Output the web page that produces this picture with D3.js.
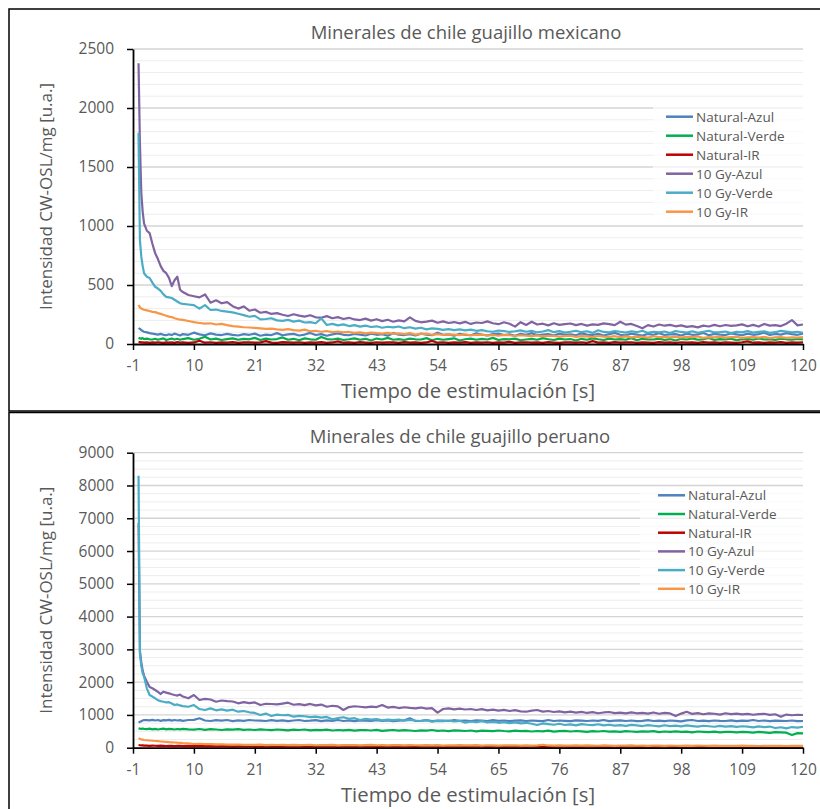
<!DOCTYPE html>
<html>
<head>
<meta charset="utf-8">
<script src="https://cdn.jsdelivr.net/npm/d3@7/dist/d3.min.js"></script>
<style>
  body { margin: 0; background: #fff; }
  svg text { font-family: "Open Sans", sans-serif; fill: #595959; }
</style>
</head>
<body>
<svg id="chart" width="820" height="809"></svg>
<script>
var names = ["Natural-Azul", "Natural-Verde", "Natural-IR", "10 Gy-Azul", "10 Gy-Verde", "10 Gy-IR"];
var colors = ["#4F81BD", "#00B050", "#C00000", "#8064A2", "#4BACC6", "#F79646"];

// sampling times: dense at the start, then 1 s steps
var tStart = [0, 0.25, 0.5, 0.75, 1, 1.5, 2, 2.5, 3, 3.5, 4, 4.5, 5, 5.5, 6, 6.5, 7, 7.5];
var times = tStart.concat(d3.range(8, 121));

var xTicks = [-1, 10, 21, 32, 43, 54, 65, 76, 87, 98, 109, 120];
var yTicksMex = [0, 500, 1000, 1500, 2000, 2500];
var yTicksPer = [0, 1000, 2000, 3000, 4000, 5000, 6000, 7000, 8000, 9000];

// ---- Minerales de chile guajillo mexicano ----
var mexNatAzul = [135, 128, 118, 110, 104, 98, 92, 88, 84, 80, 86, 78, 74, 82, 76, 88, 80, 72,
  84, 78, 96, 82, 74, 90, 80, 76, 86, 78,
  72, 84, 78, 88, 70, 80, 76, 92, 74, 82,
  86, 72, 80, 94, 76, 84, 70, 82, 90, 78,
  74, 86, 80, 72, 88, 78, 84, 70, 92, 80,
  76, 84, 72, 88, 80, 74, 96, 78, 82, 70,
  86, 78, 74, 90, 80, 72, 84, 88, 76, 82,
  70, 86, 78, 92, 74, 80, 84, 72, 88, 78,
  82, 74, 90, 80, 76, 86, 72, 84, 94, 78,
  74, 88, 80, 72, 86, 78, 92, 76, 82, 84,
  72, 88, 78, 80, 94, 74, 86, 80, 76, 90,
  82, 74, 88, 78, 84, 96, 76, 86, 80, 92,
  84, 78, 88];
var mexNatVerde = [52, 48, 44, 50, 42, 46, 40, 38, 44, 36, 42, 48, 34, 40, 46, 38, 44, 36,
  42, 50, 36, 44, 62, 38, 46, 34, 42, 48,
  36, 44, 40, 52, 34, 46, 38, 42, 56, 36,
  44, 32, 48, 40, 36, 60, 42, 38, 46, 34,
  40, 48, 36, 44, 30, 46, 38, 52, 36, 42,
  34, 46, 40, 38, 50, 32, 44, 36, 42, 48,
  30, 40, 46, 36, 44, 38, 52, 34, 42, 40,
  46, 32, 38, 44, 36, 50, 40, 34, 46, 38,
  42, 30, 44, 36, 48, 40, 34, 46, 38, 42,
  36, 50, 32, 44, 40, 38, 46, 34, 42, 30,
  44, 38, 48, 36, 40, 52, 34, 42, 38, 46,
  32, 40, 44, 36, 48, 38, 42, 34, 46, 40,
  36, 44, 38];
var mexNatIR = [18, 16, 14, 15, 12, 14, 10, 13, 11, 15, 12, 9, 14, 11, 13, 10, 16, 12,
  14, 10, 13, 28, 11, 15, 9, 14, 12, 16,
  10, 13, 15, 11, 14, 24, 12, 10, 16, 13,
  11, 15, 9, 14, 12, 16, 10, 13, 22, 11,
  14, 10, 16, 12, 9, 15, 11, 14, 13, 10,
  16, 12, 14, 9, 13, 26, 11, 15, 10, 14,
  12, 16, 10, 13, 11, 15, 9, 14, 12, 18,
  10, 13, 15, 11, 14, 10, 16, 12, 9, 14,
  13, 11, 15, 10, 24, 12, 14, 9, 16, 11,
  13, 15, 10, 14, 12, 9, 16, 11, 13, 10,
  15, 12, 14, 10, 16, 11, 13, 9, 14, 12,
  10, 15, 22, 11, 13, 9, 14, 12, 16, 10,
  13, 11, 15];
var mexGyAzul = [2380, 1700, 1280, 1120, 1020, 960, 940, 850, 770, 720, 660, 620, 600, 560, 490, 540, 570, 460,
  440, 415, 405, 395, 420, 350, 370, 345, 355, 320,
  300, 318, 282, 292, 265, 272, 255, 262, 248, 237,
  252, 240, 232, 244, 226, 223, 236, 218, 228, 212,
  222, 208, 203, 215, 198, 210, 194, 206, 189, 200,
  192, 226, 196, 184, 189, 198, 180, 192, 178, 186,
  175, 188, 170, 182, 178, 192, 176, 168, 184, 172,
  147, 185, 161, 189, 165, 172, 158, 176, 162, 168,
  174, 160, 170, 156, 166, 162, 175, 168, 160, 189,
  164, 170, 152, 133, 160, 148, 165, 155, 162, 150,
  158, 145, 152, 141, 156, 148, 162, 150, 161, 154,
  158, 166, 150, 162, 148, 170, 156, 160, 152, 172,
  203, 158, 165];
var mexGyVerde = [1790, 880, 740, 660, 600, 570, 559, 520, 485, 470, 450, 420, 400, 395, 390, 375, 360, 345,
  340, 335, 330, 300, 330, 288, 292, 280, 274, 268,
  256, 245, 231, 238, 209, 212, 218, 200, 196, 204,
  190, 198, 182, 186, 176, 217, 161, 170, 158, 166,
  152, 160, 147, 156, 144, 150, 138, 146, 141, 148,
  134, 142, 130, 138, 124, 132, 128, 120, 126, 118,
  124, 116, 122, 112, 118, 108, 104, 114, 110, 102,
  108, 116, 104, 112, 98, 106, 118, 100, 110, 96,
  104, 112, 100, 108, 94, 116, 102, 98, 110, 104,
  96, 108, 100, 112, 94, 104, 98, 106, 92, 110,
  102, 96, 108, 94, 104, 112, 98, 100, 106, 92,
  104, 98, 110, 96, 102, 108, 94, 100, 112, 106,
  98, 104, 95];
var mexGyIR = [330, 310, 300, 295, 290, 285, 280, 272, 270, 262, 255, 248, 240, 232, 228, 218, 212, 206,
  205, 195, 185, 178, 172, 176, 165, 170, 160, 152,
  148, 142, 140, 136, 133, 128, 130, 124, 120, 126,
  118, 114, 122, 108, 112, 104, 110, 100, 106, 98,
  102, 94, 98, 90, 96, 92, 88, 94, 86, 90,
  84, 92, 80, 86, 88, 78, 84, 76, 82, 80,
  76, 82, 74, 78, 80, 72, 76, 70, 78, 74,
  68, 74, 70, 66, 72, 64, 70, 68, 62, 66,
  70, 60, 66, 64, 58, 68, 62, 60, 66, 58,
  64, 56, 62, 60, 54, 66, 58, 60, 56, 62,
  54, 60, 58, 64, 52, 58, 56, 62, 54, 58,
  60, 52, 56, 58, 54, 60, 50, 56, 58, 52,
  56, 54, 58];

// ---- Minerales de chile guajillo peruano ----
var perNatAzul = [763, 790, 810, 830, 845, 840, 835, 850, 830, 845, 820, 840, 835, 850, 825, 845, 830, 840,
  820, 845, 850, 897, 830, 815, 840, 825, 845, 810,
  835, 820, 845, 830, 824, 815, 840, 820, 835, 810,
  830, 845, 815, 825, 840, 810, 835, 820, 846, 815,
  830, 810, 835, 825, 820, 840, 815, 830, 810, 825,
  835, 897, 815, 820, 840, 810, 830, 825, 815, 840,
  820, 830, 810, 835, 825, 815, 840, 820, 830, 810,
  825, 835, 815, 830, 820, 810, 845, 815, 830, 820,
  810, 835, 825, 815, 830, 820, 845, 810, 825, 835,
  815, 830, 810, 820, 840, 815, 825, 810, 830, 820,
  805, 835, 845, 815, 825, 810, 830, 820, 815, 835,
  810, 825, 820, 845, 815, 830, 810, 825, 820, 815,
  830, 810, 815];
var perNatVerde = [590, 580, 575, 585, 570, 565, 580, 560, 575, 555, 570, 580, 560, 575, 565, 555, 570, 560,
  575, 560, 550, 570, 545, 565, 555, 540, 560, 550,
  565, 545, 555, 540, 560, 548, 535, 555, 545, 530,
  550, 540, 555, 530, 545, 535, 550, 525, 540, 530,
  545, 520, 535, 540, 525, 545, 515, 530, 540, 520,
  535, 525, 510, 530, 520, 540, 515, 525, 505, 530,
  520, 510, 525, 500, 520, 515, 505, 525, 510, 500,
  520, 505, 515, 495, 510, 500, 520, 490, 505, 515,
  495, 510, 500, 485, 505, 495, 510, 490, 500, 485,
  505, 495, 480, 500, 490, 505, 475, 495, 485, 500,
  480, 490, 470, 495, 485, 475, 490, 470, 485, 480,
  465, 485, 475, 460, 480, 470, 455, 475, 465, 458,
  387, 445, 440];
var perNatIR = [82, 75, 68, 70, 62, 66, 58, 64, 60, 55, 62, 58, 52, 60, 56, 50, 58, 54,
  50, 56, 48, 54, 46, 52, 44, 50, 48, 42,
  48, 44, 50, 40, 46, 42, 48, 38, 44, 40,
  46, 38, 42, 44, 36, 42, 40, 46, 34, 40,
  42, 36, 44, 38, 40, 34, 42, 38, 36, 44,
  38, 40, 34, 42, 36, 40, 38, 32, 42, 36,
  40, 34, 38, 42, 36, 32, 40, 38, 34, 42,
  36, 38, 32, 40, 36, 34, 42, 30, 38, 36,
  34, 40, 32, 38, 36, 30, 40, 34, 38, 32,
  36, 38, 30, 40, 34, 32, 38, 36, 30, 40,
  34, 32, 38, 30, 36, 34, 40, 32, 36, 30,
  38, 34, 32, 36, 30, 38, 34, 32, 36, 30,
  34, 32, 36];
var perGyAzul = [6850, 2950, 2600, 2350, 2200, 2013, 1850, 1812, 1760, 1700, 1638, 1708, 1680, 1659, 1630, 1607, 1590, 1620,
  1560, 1507, 1607, 1455, 1490, 1470, 1403, 1440, 1420, 1410,
  1354, 1390, 1360, 1380, 1302, 1340, 1333, 1320, 1345, 1373,
  1310, 1330, 1300, 1335, 1290, 1315, 1250, 1280, 1260, 1150,
  1240, 1265, 1250, 1230, 1255, 1240, 1302, 1225, 1245, 1210,
  1235, 1215, 1200, 1225, 1190, 1210, 1068, 1180, 1200, 1170,
  1190, 1165, 1180, 1150, 1175, 1140, 1160, 1130, 1155, 1120,
  1145, 1110, 1098, 1130, 1150, 1100, 1120, 1090, 1110, 1080,
  1100, 1070, 1095, 1060, 1085, 1050, 1075, 1090, 1055, 1070,
  1045, 1080, 1050, 1065, 1040, 1075, 1035, 1060, 1045, 966,
  1040, 1098, 1030, 1055, 1020, 1045, 1035, 1010, 1050, 1025,
  1040, 1015, 1030, 1005, 1025, 1035, 1000, 1020, 946, 1010,
  990, 1005, 997];
var perGyVerde = [8300, 2880, 2500, 2270, 2166, 1812, 1607, 1560, 1507, 1450, 1420, 1403, 1380, 1390, 1350, 1302, 1320, 1290,
  1270, 1250, 1302, 1180, 1150, 1200, 1140, 1170, 1130, 1160,
  1098, 1120, 1080, 1060, 997, 1040, 966, 1010, 990, 1000,
  946, 970, 960, 935, 950, 920, 940, 866, 905, 930,
  880, 900, 845, 880, 860, 870, 835, 855, 840, 860,
  824, 850, 830, 815, 840, 793, 820, 810, 830, 800,
  820, 763, 800, 780, 810, 770, 790, 760, 780, 750,
  770, 743, 760, 730, 692, 740, 720, 700, 730, 692,
  710, 680, 720, 700, 690, 715, 680, 700, 675, 690,
  665, 695, 680, 661, 690, 670, 650, 685, 660, 675,
  650, 680, 660, 641, 670, 655, 640, 665, 645, 660,
  635, 655, 641, 620, 650, 630, 645, 600, 625, 590,
  630, 610, 640];
var perGyIR = [287, 270, 255, 245, 235, 228, 220, 212, 205, 198, 190, 183, 178, 170, 165, 158, 152, 148,
  140, 130, 113, 120, 108, 112, 100, 104, 95, 92,
  98, 88, 90, 84, 92, 80, 86, 82, 88, 78,
  84, 76, 82, 88, 74, 80, 78, 84, 72, 80,
  76, 82, 70, 78, 86, 74, 80, 72, 78, 76,
  70, 80, 74, 68, 78, 72, 76, 66, 74, 70,
  78, 68, 72, 76, 66, 74, 70, 64, 72, 68,
  74, 66, 70, 64, 72, 90, 68, 62, 70, 66,
  64, 70, 62, 68, 66, 60, 70, 64, 58, 66,
  62, 68, 60, 64, 58, 66, 62, 56, 64, 60,
  58, 64, 56, 62, 60, 54, 62, 58, 56, 60,
  54, 62, 56, 58, 52, 60, 56, 54, 58, 52,
  56, 54, 58];

var svg = d3.select("#chart");

// panel frames
svg.append("rect").attr("x", 9).attr("y", 9).attr("width", 830).attr("height", 402)
    .attr("fill", "none").attr("stroke", "#000").attr("stroke-width", 1.5);
svg.append("rect").attr("x", 9).attr("y", 412.5).attr("width", 830).attr("height", 420)
    .attr("fill", "none").attr("stroke", "#000").attr("stroke-width", 1.5);

function drawPanel(p) {
    var x = d3.scaleLinear().domain([-1, 120]).range([133, 803]);
    var y = d3.scaleLinear().domain([0, p.yTicks[p.yTicks.length - 1]]).range([p.bottom, p.top]);
    var g = svg.append("g");

    // gridlines
    g.selectAll("line.minor")
        .data(d3.range(0, y.domain()[1] + 1, p.minorStep).filter(function(v) { return v % p.yTicks[1] !== 0; }))
      .enter().append("line")
        .attr("x1", x(-1)).attr("x2", x(120))
        .attr("y1", function(d) { return y(d); }).attr("y2", function(d) { return y(d); })
        .attr("stroke", "#ededed").attr("stroke-width", 1);
    g.selectAll("line.major")
        .data(p.yTicks.slice(1))
      .enter().append("line")
        .attr("x1", x(-1)).attr("x2", x(120))
        .attr("y1", function(d) { return y(d); }).attr("y2", function(d) { return y(d); })
        .attr("stroke", "#d4d4d4").attr("stroke-width", 1.3);

    // legend backing
    g.append("rect")
        .attr("x", p.legend.box[0]).attr("y", p.legend.box[1])
        .attr("width", p.legend.box[2]).attr("height", p.legend.box[3])
        .attr("fill", "#fff").attr("opacity", 0.65);

    var line = d3.line()
        .x(function(d, i) { return x(times[i]); })
        .y(function(d) { return y(d); });

    g.selectAll("path.series")
        .data(p.series)
      .enter().append("path")
        .attr("class", "series")
        .attr("d", line)
        .attr("fill", "none")
        .attr("stroke", function(d, i) { return colors[i]; })
        .attr("stroke-width", 2.2)
        .attr("stroke-linejoin", "round");

    // axes, plain number labels (no thousands separator, hyphen minus)
    var plain = function(d) { return String(d); };
    var yAxis = d3.axisLeft(y).tickValues(p.yTicks).tickFormat(plain)
        .tickSize(6).tickSizeOuter(0).tickPadding(13);
    var xAxis = d3.axisBottom(x).tickValues(xTicks).tickFormat(plain)
        .tickSize(6).tickSizeOuter(0).tickPadding(10);

    var gy = g.append("g").attr("transform", "translate(" + x(-1) + ",0)").call(yAxis);
    var gx = g.append("g").attr("transform", "translate(0," + y(0) + ")").call(xAxis);
    [gx, gy].forEach(function(a) {
        a.attr("font-family", null).attr("font-size", null);
        a.select(".domain").attr("stroke", "#000").attr("stroke-width", 1.8);
        a.selectAll(".tick line").attr("stroke", "#000").attr("stroke-width", 1.5);
        a.selectAll(".tick text").style("font-size", "15.5px").style("fill", "#595959");
    });

    // titles
    g.append("text")
        .attr("x", p.titleX).attr("y", p.top - 10)
        .attr("text-anchor", "middle")
        .style("font-size", "18.5px")
        .text(p.title);
    g.append("text")
        .attr("x", 468).attr("y", y(0) + 54)
        .attr("text-anchor", "middle")
        .style("font-size", "20.3px")
        .text("Tiempo de estimulación [s]");
    g.append("text")
        .attr("transform", "translate(52," + (p.top + p.bottom) / 2 + ") rotate(-90)")
        .attr("text-anchor", "middle")
        .style("font-size", "17px")
        .text("Intensidad CW-OSL/mg [u.a.]");

    // legend
    var lg = g.selectAll("g.leg")
        .data(names)
      .enter().append("g")
        .attr("transform", function(d, i) { return "translate(0," + (p.legend.y0 + i * p.legend.dy) + ")"; });
    lg.append("line")
        .attr("x1", p.legend.x0).attr("x2", p.legend.x0 + 27)
        .attr("stroke", function(d, i) { return colors[i]; })
        .attr("stroke-width", 2.5);
    lg.append("text")
        .attr("x", p.legend.x0 + 30).attr("dy", "0.36em")
        .style("font-size", "13.5px")
        .text(function(d) { return d; });
}

drawPanel({
    title: "Minerales de chile guajillo mexicano",
    titleX: 466,
    top: 49, bottom: 344,
    yTicks: yTicksMex, minorStep: 100,
    series: [mexNatAzul, mexNatVerde, mexNatIR, mexGyAzul, mexGyVerde, mexGyIR],
    legend: { x0: 666, y0: 116.7, dy: 19, box: [653, 105, 150, 117] }
});

drawPanel({
    title: "Minerales de chile guajillo peruano",
    titleX: 460,
    top: 452.7, bottom: 747.7,
    yTicks: yTicksPer, minorStep: 250,
    series: [perNatAzul, perNatVerde, perNatIR, perGyAzul, perGyVerde, perGyIR],
    legend: { x0: 658, y0: 495.3, dy: 18.7, box: [640, 489, 163, 111] }
});
</script>
</body>
</html>
